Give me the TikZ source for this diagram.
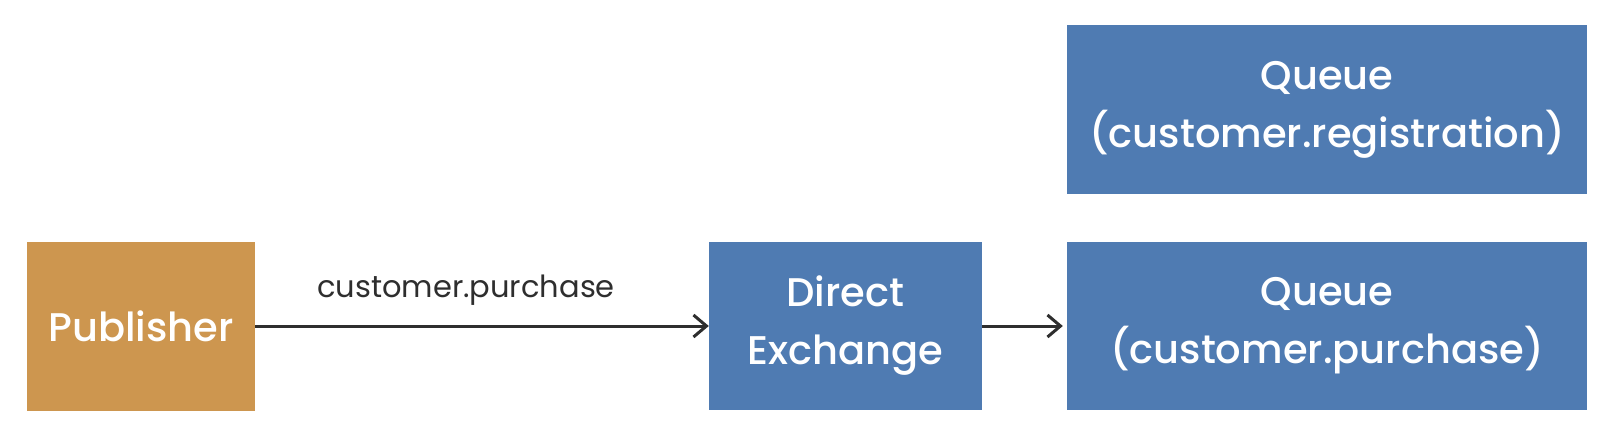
\documentclass[tikz,border=0pt]{standalone}
\usepackage{fontspec}
\setmainfont{Poppins}
\newfontfamily\boxfont{Poppins}[UprightFont={* Medium}]
\usetikzlibrary{arrows.meta}
\definecolor{pubcol}{HTML}{CD964F}
\definecolor{bluecol}{HTML}{4F7BB2}
\definecolor{arrcol}{HTML}{2E2E2E}
\tikzset{
  box/.style={rectangle, draw=none, text=white, align=center, inner sep=0pt,
    font=\boxfont\fontsize{40}{58}\selectfont},
  bluebox/.style={box, fill=bluecol},
  pubbox/.style={box, fill=pubcol},
  arr/.style={draw=arrcol, line width=3pt,
    -{Straight Barb[length=13pt,width=22pt,line width=3pt]}},
  lbl/.style={text=arrcol, inner sep=0pt, font=\fontsize{30.5}{36}\selectfont}
}
\begin{document}
\begin{tikzpicture}[x=1pt,y=-1pt]
\useasboundingbox (0,0) rectangle (1612,440);
\fill[white] (0,0) rectangle (1612,440);
\node[pubbox, minimum width=228pt, minimum height=169pt] (pub) at (141,326) {Publisher};
\node[bluebox, minimum width=273pt, minimum height=168pt] (exch) at (845.5,326) {Direct\\Exchange};
\node[bluebox, minimum width=520pt, minimum height=169pt] (q1) at (1327,109.5) {Queue\\(customer.registration)};
\node[bluebox, minimum width=520pt, minimum height=168pt] (q2) at (1327,326) {Queue\\(customer.purchase)};
\draw[arr] (pub.east) -- (exch.west);
\draw[arr, shorten >=4pt] (exch.east) -- (q2.west);
\node[lbl, anchor=base] (lab) at (466,297) {customer.purchase};
\end{tikzpicture}
\end{document}
